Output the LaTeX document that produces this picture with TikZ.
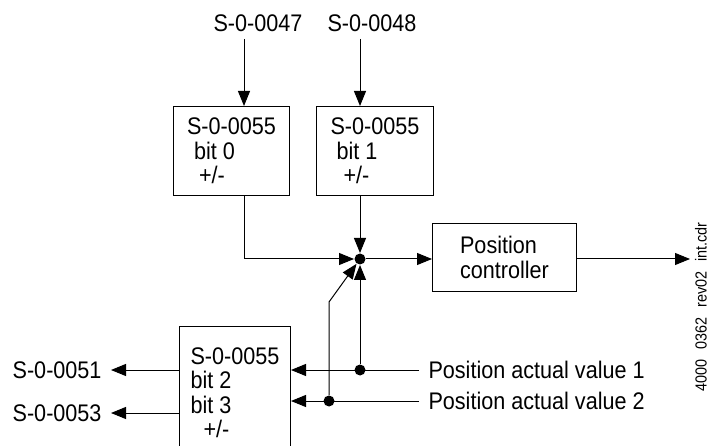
\documentclass[tikz,border=0pt]{standalone}
\usepackage{fontspec}
\setmainfont{Liberation Sans}[FakeStretch=0.9]
\usepackage{tikz}
\usetikzlibrary{positioning, arrows.meta}
\newcommand{\sz}{\fontsize{24pt}{24.5pt}\selectfont}

\begin{document}
\begin{tikzpicture}[x=1pt, y=-1pt, line width=1pt,
  arr/.style={-{Triangle[length=15pt,width=12pt]}},
  blk/.style={draw, font=\sz, align=left, inner sep=0pt, anchor=north west},
  lbl/.style={font=\sz, inner xsep=9pt, inner ysep=7pt},
  dot/.style={circle, fill, inner sep=0pt, minimum size=11pt}]
  \useasboundingbox (0,0) rectangle (712,446);
  % inputs
  \node[lbl] (s47) at (258,23) {S-0-0047};
  \node[lbl] (s48) at (372,23) {S-0-0048};
  \node[blk, minimum width=116pt, minimum height=89pt] (b0) at (173,106)
  {S-0-0055\\\hspace*{7pt}bit 0\\\hspace*{12pt}+/-};
  \node[blk, minimum width=117pt, minimum height=89pt] (b1) at (316,106)
  {S-0-0055\\\hspace*{6pt}bit 1\\\hspace*{13pt}+/-};
  \node[blk, minimum width=144pt, minimum height=68pt] (ctrl) at (432,223)
  {Position\\controller};
  \node[dot] (sum) at (360,259) {};
  \coordinate (a0) at (244,0);
  \coordinate (out) at (690,259);
  \draw[arr] (a0 |- s47.south) -- (a0 |- b0.north);
  \draw[arr] (sum |- s48.south) -- (sum |- b1.north);
  \draw[arr] (a0 |- b0.south) |- (sum);
  \draw[arr] (sum |- b1.south) -- (sum);
  \draw[arr] (sum) -- (sum -| ctrl.west);
  \draw[arr] (ctrl.east |- out) -- (out);
  % feedback
  \node[blk, minimum width=111pt, minimum height=132pt] (b3) at (179,326)
  {S-0-0055\\bit 2\\bit 3\\\hspace*{13pt}+/-};
  \node[lbl, anchor=west] (pv1) at (419,370) {Position actual value 1};
  \node[lbl, anchor=west] (pv2) at (419,401) {Position actual value 2};
  \node[dot] (j1) at (sum |- pv1) {};
  \coordinate (bend) at (329,302);
  \node[dot] (j2) at (bend |- pv2) {};
  \draw[arr] (pv1.west) -- (pv1.west -| b3.east);
  \draw[arr] (pv2.west) -- (pv2.west -| b3.east);
  \draw[arr] (j1) -- (sum);
  \draw[arr] (j2) -- (bend) -- (sum);
  % outputs
  \node[lbl, anchor=east] (s51) at (111,370) {S-0-0051};
  \node[lbl, anchor=east] (s53) at (111,413) {S-0-0053};
  \draw[arr] (s51.east -| b3.west) -- (s51.east);
  \draw[arr] (s53.east -| b3.west) -- (s53.east);
  \node[font=\fontsize{16pt}{18pt}\selectfont, rotate=90] (tag) at (701,307)
  {4000\hspace{10pt}0362\hspace{10pt}rev02\hspace{10pt}int.cdr};
\end{tikzpicture}
\end{document}
